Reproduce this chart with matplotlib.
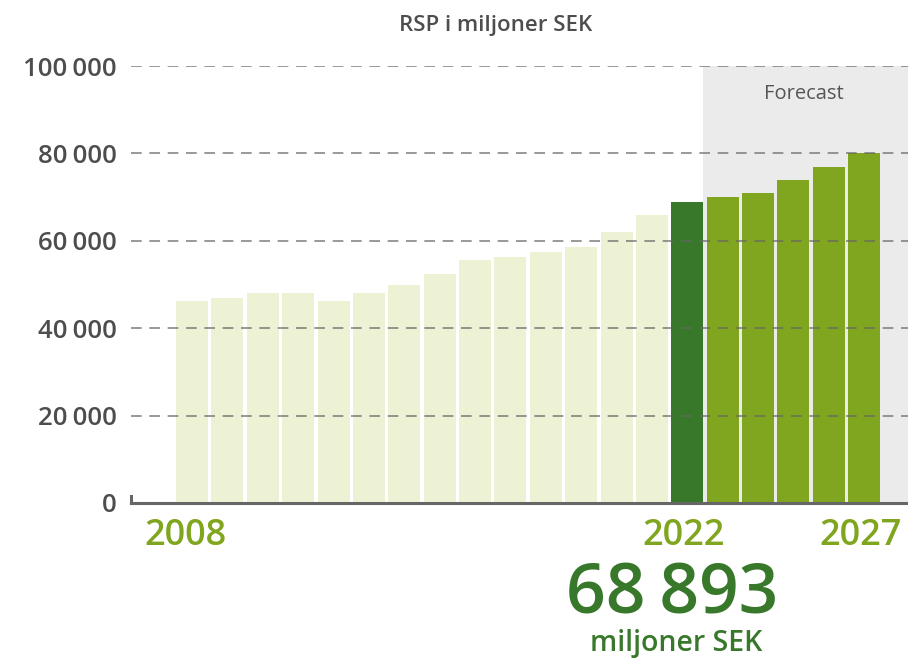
import matplotlib.pyplot as plt
import numpy as np

# Data
years = list(range(2008, 2028))
values = [46300, 47000, 48000, 48000, 46300, 48000, 50000, 52300, 55500,
          56400, 57500, 58500, 62100, 66000, 68893, 70100, 71000, 73800,
          77000, 80000]
tick_vals = [0, 20000, 40000, 60000, 80000, 100000]
tick_labels = ['0', '20\u2009000', '40\u2009000', '60\u2009000', '80\u2009000', '100\u2009000']
shown_years = ['2008', '2022', '2027']

light = '#ecf2d3'
dark = '#38782a'
mid = '#80a51e'
grey_txt = '#4d4d4d'

plt.rcParams['font.family'] = ['Open Sans', 'DejaVu Sans']

fig = plt.figure(figsize=(9.08, 6.59), dpi=100)
ax = fig.add_axes([131 / 908, 1 - 503 / 659, 1 - 131 / 908, (503 - 66) / 659])

x = np.arange(len(years))
colors = [light] * 14 + [dark] + [mid] * 5
width = 0.905
ax.bar(x, values, width=width, color=colors, zorder=2)

xmin, xmax = -1.725, 20.24
ax.set_xlim(xmin, xmax)
ax.set_ylim(0, 100000)

# forecast area
ax.axvspan(14 + width / 2, xmax, color='#ebebeb', zorder=0, lw=0)
ax.text(17.3, 93500, 'Forecast', ha='center', va='center', fontsize=14.5,
        color='#555555')

# grid
for v in tick_vals[1:]:
    ax.axhline(v, color='#666666', lw=1.1, ls=(0, (7, 5)), zorder=3, alpha=0.85)

for s in ['top', 'right', 'left']:
    ax.spines[s].set_visible(False)
ax.spines['bottom'].set_color('#666666')
ax.spines['bottom'].set_linewidth(2.2)
ax.spines['bottom'].set_zorder(4)
ax.axvline(xmin, ymin=0, ymax=0.015, color='#666666', lw=2.2, clip_on=False)

ax.set_yticks(tick_vals)
ax.set_yticklabels(tick_labels, fontsize=18.5, color=grey_txt, fontweight='semibold')
ax.tick_params(axis='y', length=0, pad=10)
ax.set_xticks([])

# year labels
for yl in shown_years:
    i = years.index(int(yl))
    ax.text(i - 0.2 if yl == '2008' else i - 0.1, -7500, yl, ha='center', va='center',
            fontsize=26, color=mid, fontweight='semibold')

fig.text(496 / 908, 1 - 26 / 659, 'RSP i miljoner SEK', ha='center', va='center',
         fontsize=16, fontweight='semibold', color=grey_txt)
fig.text(672 / 908, 1 - 595 / 659, '68\u2009893', ha='center', va='center',
         fontsize=50, fontweight='semibold', color=dark)
fig.text(676 / 908, 1 - 644 / 659, 'miljoner SEK', ha='center', va='center',
         fontsize=20.5, fontweight='semibold', color=dark)

fig.savefig('out.png', dpi=100)
